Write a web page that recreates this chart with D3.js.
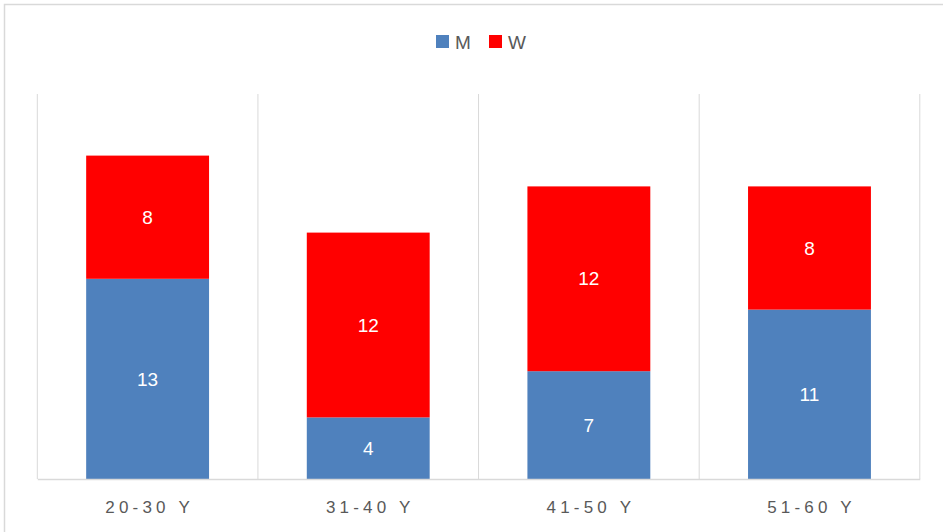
<!DOCTYPE html>
<html>
<head>
<meta charset="utf-8">
<script src="https://cdn.jsdelivr.net/npm/d3@7"></script>
<style>
  html, body { margin: 0; padding: 0; background: #fff; }
  svg { display: block; }
</style>
</head>
<body>
<svg id="chart" width="943" height="532"></svg>
<script>
// Age groups and counts per group
const categories = ["20-30 Y", "31-40 Y", "41-50 Y", "51-60 Y"];
const seriesNames = ["M", "W"];
const menValues = [13, 4, 7, 11];
const womenValues = [8, 12, 12, 8];
const yMax = 25;

const colors = { M: "#4F81BD", W: "#FF0000" };
const fontStack = "'Liberation Sans', Arial, sans-serif";

const svg = d3.select("#chart");
const W = 943, H = 532;

// Chart frame
svg.append("rect")
  .attr("x", 4.5).attr("y", 4.5)
  .attr("width", W + 10).attr("height", H + 10)
  .attr("fill", "#fff").attr("stroke", "#D9D9D9").attr("stroke-width", 1.5);

const plot = { left: 37.3, right: 919.8, top: 94, bottom: 479 };

const x = d3.scaleBand().domain(categories).range([plot.left, plot.right]).padding(0);
const y = d3.scaleLinear().domain([0, yMax]).range([plot.bottom, plot.top]);

// Vertical gridlines at category boundaries
const bounds = categories.map(c => x(c)).concat([x(categories[categories.length - 1]) + x.bandwidth()]);
svg.append("g").selectAll("line").data(bounds).join("line")
  .attr("x1", d => d).attr("x2", d => d)
  .attr("y1", plot.top).attr("y2", plot.bottom)
  .attr("stroke", "#D9D9D9").attr("stroke-width", 1);

// Stack the series
const rows = categories.map((c, i) => ({ cat: c, M: menValues[i], W: womenValues[i] }));
const stacked = d3.stack().keys(seriesNames)(rows);

const barFrac = 0.557;
const barW = x.bandwidth() * barFrac;

const layers = svg.append("g").selectAll("g").data(stacked).join("g")
  .attr("fill", d => colors[d.key]);

layers.selectAll("rect").data(d => d).join("rect")
  .attr("x", d => x(d.data.cat) + (x.bandwidth() - barW) / 2)
  .attr("width", barW)
  .attr("y", d => y(d[1]))
  .attr("height", d => y(d[0]) - y(d[1]));

// Value labels inside segments
layers.selectAll("text").data(d => d.map(v => ({ v, key: d.key }))).join("text")
  .attr("x", d => x(d.v.data.cat) + x.bandwidth() / 2)
  .attr("y", d => (y(d.v[0]) + y(d.v[1])) / 2)
  .attr("dy", "0.35em")
  .attr("text-anchor", "middle")
  .attr("fill", "#fff")
  .attr("font-family", fontStack)
  .attr("font-size", 19)
  .text(d => d.v.data[d.key]);

// Category axis
const xAxis = d3.axisBottom(x).tickSize(0).tickPadding(22);
const axisG = svg.append("g").attr("transform", `translate(0,${plot.bottom})`).call(xAxis);
axisG.select(".domain").attr("stroke", "#D9D9D9").attr("stroke-width", 1.5);
axisG.selectAll("text")
  .attr("fill", "#595959")
  .attr("font-family", fontStack)
  .attr("font-size", 17)
  .attr("letter-spacing", "4.2px")
  .attr("dx", "2px");

// Legend
const legendItems = [
  { key: "M", sx: 436, tx: 455 },
  { key: "W", sx: 489, tx: 508 }
];
const legend = svg.append("g");
legend.selectAll("rect").data(legendItems).join("rect")
  .attr("x", d => d.sx).attr("y", 35)
  .attr("width", 13).attr("height", 13)
  .attr("fill", d => colors[d.key]);
legend.selectAll("text").data(legendItems).join("text")
  .attr("x", d => d.tx).attr("y", 42)
  .attr("dy", "0.35em")
  .attr("fill", "#595959")
  .attr("font-family", fontStack)
  .attr("font-size", 19)
  .text(d => d.key);
</script>
</body>
</html>
